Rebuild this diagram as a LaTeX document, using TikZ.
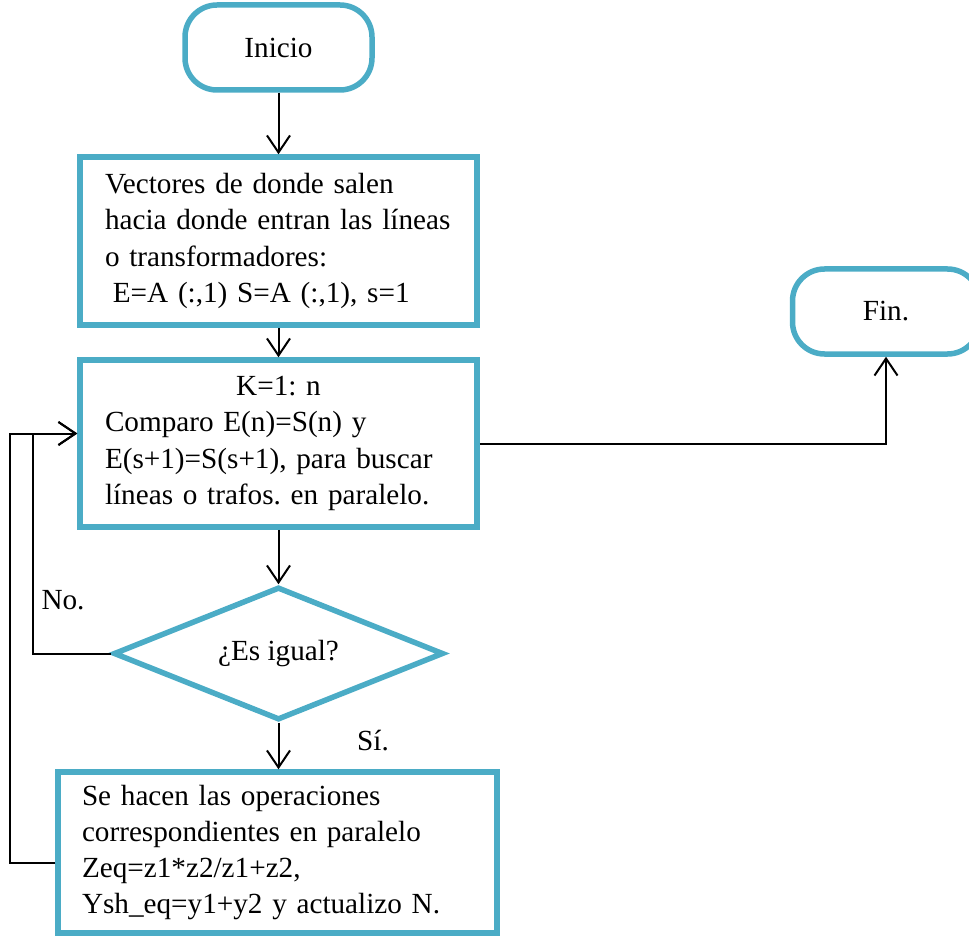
\documentclass[tikz,border=0pt]{standalone}
\usepackage{fontspec}
\setmainfont{Liberation Serif}
\usetikzlibrary{arrows.meta,shapes.geometric}
\definecolor{flowblue}{RGB}{75,172,198}
\frenchspacing

\tikzset{
  term/.style={draw=flowblue, line width=2.75pt, rounded corners=16pt, minimum width=93.5pt, minimum height=42.5pt},
  proc/.style={draw=flowblue, line width=2.75pt, align=left, minimum width=198.5pt, text width=173.5pt},
  decis/.style={draw=flowblue, line width=2.75pt, diamond, aspect=2.5, inner sep=0pt, minimum width=165pt, minimum height=66.5pt},
  conn/.style={line width=1pt, ->},
}

\begin{document}
\begin{tikzpicture}[x=0.5pt, y=-0.5pt, >={Straight Barb[length=8.5pt,width=11.5pt]}, font=\fontsize{14.6}{18.1}\selectfont]

\useasboundingbox (0,0) rectangle (969,936);

\node[term] (inicio) at (278.5, 47.5) {Inicio};

\node[proc, minimum height=84pt] (vect) at (278.5, 241) {Vectores de donde salen\\hacia donde entran las líneas\\o transformadores:\\\hspace*{0.27em}E=A (:,1) S=A (:,1), s=1};

\node[proc, minimum height=83.5pt] (comp) at (278.5, 443.5) {\makebox[\hsize]{K=1: n}\\Comparo E(n)=S(n) y\\\mbox{E(s+1)=S(s+1), para buscar}\\líneas o trafos. en paralelo.};

\node[term] (fin) at (886, 311.5) {Fin.};

\node[decis] (dia) at (278.5, 653.5) {¿Es igual?};

\node[proc, minimum width=219.5pt, minimum height=80.5pt, text width=195.5pt] (ops) at (277.5, 852.5) {Se hacen las operaciones\\correspondientes en paralelo\\Zeq=z1*z2/z1+z2,\\Ysh\_eq=y1+y2 y actualizo N.};

\node (no) at (63, 600) {No.};
\node (si) at (373, 741) {Sí.};

% connectors
\draw[conn] (inicio) -- (vect);
\draw[conn] (vect) -- (comp);
\draw[conn] (comp.east) -| (fin.south);
\draw[conn] (comp) -- (dia);
\draw[conn] (dia.south) -- (dia.south |- ops.north);

% vuelta al bucle
\coordinate (back) at ([yshift=5pt]comp.west);
\draw[conn] (dia.west) -- ++(-78,0) |- (back);
\draw[conn] ([yshift=-5pt]ops.west) -- ++(-45,0) |- (back);

\end{tikzpicture}
\end{document}
